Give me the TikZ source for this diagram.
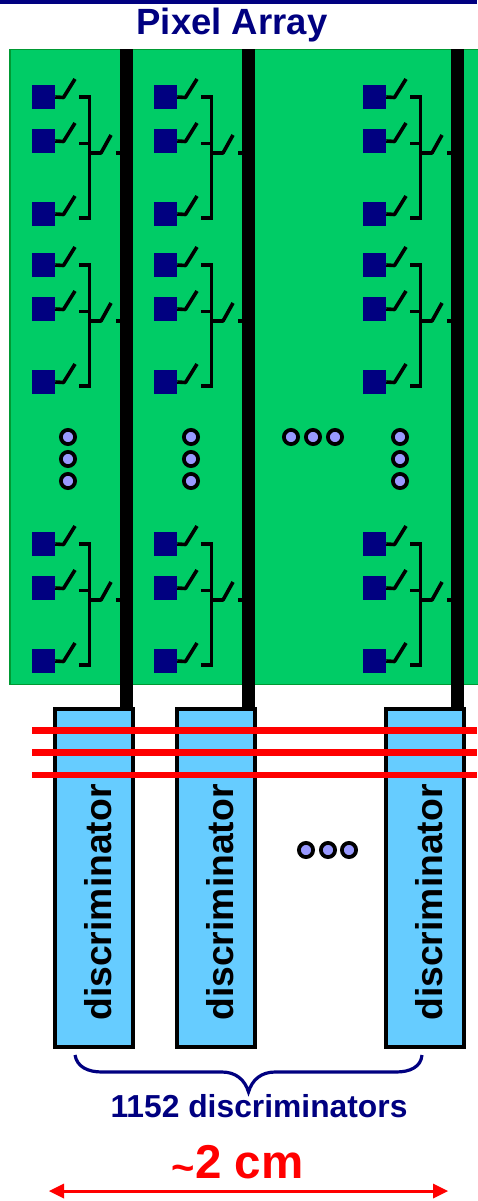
\documentclass[tikz,border=0pt]{standalone}
\usepackage{fontspec}
\setmainfont{Liberation Sans}
\definecolor{navy}{HTML}{000080}
\definecolor{boardgreen}{HTML}{00CC66}
\definecolor{boardedge}{HTML}{009933}
\definecolor{discblue}{HTML}{66CCFF}
\definecolor{dotfill}{HTML}{9999FF}
\definecolor{signalred}{HTML}{FF0000}
\tikzset{x=1pt,y=-1pt,
 pixelbox/.style={fill=navy,draw=none,minimum size=23.5pt,inner sep=0pt,outer sep=0pt},
 wire/.style={line width=3.6pt,black},
 discbox/.style={draw=black,line width=3.8pt,fill=discblue,minimum width=78.5pt,minimum height=338.5pt,inner sep=0pt,outer sep=0pt},
 dotmark/.style={circle,draw=black,line width=3.8pt,fill=dotfill,minimum size=14.2pt,inner sep=0pt,outer sep=0pt},
 redline/.style={signalred,line width=6.6pt},
 disclabel/.style={rotate=90,font=\fontsize{37.3}{37.3}\selectfont\bfseries,text=black,inner sep=0pt,anchor=base},
}
\begin{document}
\begin{tikzpicture}
\useasboundingbox (0,0) rectangle (477,1201);
\fill[navy] (0,0) rectangle (477,4.5);
\node[font=\fontsize{36.5}{36.5}\selectfont\bfseries,text=navy,inner sep=0pt,anchor=base] (title) at (232,35) {Pixel Array};
\node[draw=boardedge,line width=1.4pt,fill=boardgreen,inner sep=0pt,outer sep=0pt,minimum width=480pt,minimum height=635pt,anchor=north west] (board) at (10,49.5) {};
\foreach \c/\dx in {1/0,2/122,3/331}{
  \node[discbox] (disc\c) at (94+\dx,878) {};
  \node[disclabel] (disclabel\c) at (111+\dx,902.5) {discriminator};
  \node[fill=black,inner sep=0pt,outer sep=0pt,minimum width=13pt,minimum height=658pt,anchor=north] (bar\c) at (126.5+\dx,49) {};
  \foreach \g/\dy in {1/0,2/168,3/447}{
    \foreach \p/\py in {a/97,b/141,c/214}{
      \node[pixelbox] (px\c\g\p) at (43.5+\dx,\py+\dy) {};
      \draw[wire,line join=round] (px\c\g\p.east) -- (63.5+\dx,\py+\dy+.5) -- (75+\dx,\py+\dy-18);
    }
    \draw[wire] (79+\dx,97+\dy) -- (89.5+\dx,97+\dy) -- (89.5+\dx,218+\dy) -- (79+\dx,218+\dy);
    \draw[wire] (79+\dx,143.5+\dy) -- (89.5+\dx,143.5+\dy);
    \draw[wire,line join=round] (89.5+\dx,153+\dy) -- (101+\dx,153+\dy) -- (111+\dx,135+\dy);
    \draw[wire] (116+\dx,153+\dy) -- (120+\dx,153+\dy);
  }
}
\foreach \c/\x in {1/68,2/191,3/400}{
  \foreach \i/\y in {1/437,2/459,3/481}{
    \node[dotmark] (vdot\c\i) at (\x,\y) {};
  }
}
\foreach \i/\x in {1/291,2/313,3/335}{\node[dotmark] (hdot\i) at (\x,437) {};}
\foreach \i/\x in {1/306,2/328,3/349}{\node[dotmark] (ldot\i) at (\x,850) {};}
\foreach \i/\y in {1/730.5,2/752.5,3/775}{
  \coordinate (rl\i) at (32,\y); \coordinate (rr\i) at (477,\y);
  \draw[redline] (rl\i) -- (rr\i);
}
\coordinate (bl) at (75,1055); \coordinate (br) at (422,1055); \coordinate (bm) at (248.5,1092);
\draw[navy,line width=3.2pt] (bl) .. controls (77,1067) and (88,1072) .. (102,1072)
  -- (222,1072) .. controls (236,1072) and (245,1080) .. (bm)
  .. controls (252,1080) and (261,1072) .. (275,1072)
  -- (396,1072) .. controls (410,1072) and (421,1067) .. (br);
\node[font=\fontsize{31.8}{31.8}\selectfont\bfseries,text=navy,inner sep=0pt,anchor=base] (count) at (259,1117) {1152 discriminators};
\node[text=signalred,font=\bfseries,inner sep=0pt,anchor=base] (size) at (237.5,1178) {\fontsize{40}{40}\selectfont\raisebox{-3.5pt}{\char`~}\fontsize{47.5}{47.5}\selectfont 2 cm};
\coordinate (al) at (49,1191); \coordinate (ar) at (448,1191);
\draw[signalred,line width=3pt] (63,1191) -- (434,1191);
\fill[signalred] (al) -- (64,1183.5) -- (64,1198.5) -- cycle;
\fill[signalred] (ar) -- (433,1183.5) -- (433,1198.5) -- cycle;
\end{tikzpicture}
\end{document}
